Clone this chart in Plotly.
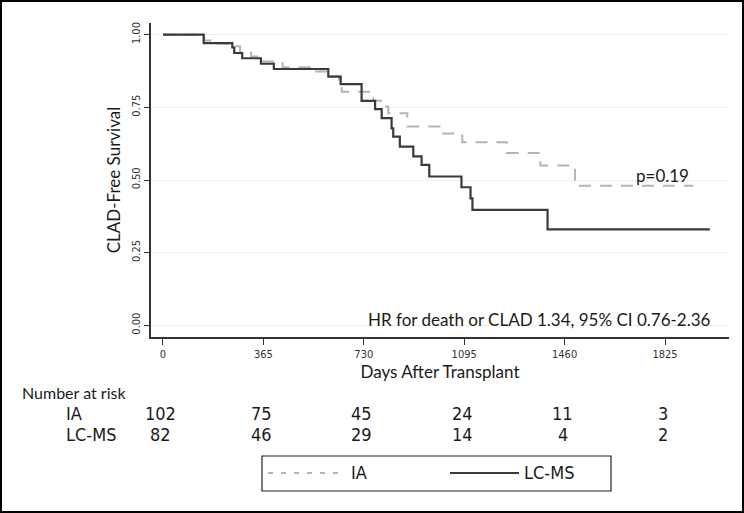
import plotly.graph_objects as go

# ---- data ----
ia_days = [0, 125, 150, 200, 235, 280, 320, 360, 435, 535, 605, 640, 650, 765, 807, 819, 888, 1005, 1088, 1250, 1372, 1498, 1928]
ia_surv = [1.0, 0.990, 0.980, 0.970, 0.960, 0.940, 0.925, 0.908, 0.888, 0.873, 0.857, 0.838, 0.804, 0.773, 0.753, 0.730, 0.684, 0.660, 0.630, 0.593, 0.550, 0.480, 0.480]

lc_days = [0, 148, 252, 259, 288, 356, 403, 601, 646, 722, 771, 795, 831, 837, 861, 910, 940, 968, 1085, 1118, 1125, 1398, 1988]
lc_surv = [1.0, 0.971, 0.956, 0.937, 0.919, 0.900, 0.882, 0.856, 0.830, 0.772, 0.744, 0.713, 0.678, 0.649, 0.615, 0.581, 0.552, 0.512, 0.475, 0.437, 0.397, 0.330, 0.330]

x_ticks = [0, 365, 730, 1095, 1460, 1825]
y_ticks = [0, 0.25, 0.5, 0.75, 1.0]
y_ticktext = ["0.00", "0.25", "0.50", "0.75", "1.00"]

risk_groups = ["IA", "LC-MS"]
risk_ia = [102, 75, 45, 24, 11, 3]
risk_lc = [82, 46, 29, 14, 4, 2]

hr_text = "HR for death or CLAD 1.34, 95% CI 0.76-2.36"
p_text = "p=0.19"

# ---- styling ----
W, H = 744, 513
ML, MR, MT, MB = 151, 15, 23, 176
PW, PH = W - ML - MR, H - MT - MB
GRAY = "#b4b4b4"
DARK = "#3a3a3a"
AXC = "#333333"
MAIN_FONT = "Lato, 'Open Sans', sans-serif"
NARROW_FONT = "'Liberation Sans Narrow', 'DejaVu Sans Condensed', 'Arial Narrow', Lato, sans-serif"


def px_x(px):
    return (px - ML) / PW


def px_y(py):
    return (H - MB - py) / PH


fig = go.Figure()
fig.add_trace(go.Scatter(x=ia_days, y=ia_surv, mode="lines", name="IA",
                         line=dict(shape="hv", color=GRAY, width=2, dash="12px,9px")))
fig.add_trace(go.Scatter(x=lc_days, y=lc_surv, mode="lines", name="LC-MS",
                         line=dict(shape="hv", color=DARK, width=2.2)))

annotations = []
# HR and p
annotations.append(dict(x=px_x(713), y=px_y(319), xref="paper", yref="paper", text=hr_text,
                        showarrow=False, xanchor="right", yanchor="middle",
                        font=dict(family=MAIN_FONT, size=17, color="#1a1a1a")))
annotations.append(dict(x=px_x(634), y=px_y(175), xref="paper", yref="paper", text=p_text,
                        showarrow=False, xanchor="left", yanchor="middle",
                        font=dict(family=MAIN_FONT, size=17, color="#1a1a1a")))
# risk table
annotations.append(dict(x=px_x(20), y=px_y(392), xref="paper", yref="paper", text="Number at risk",
                        showarrow=False, xanchor="left", yanchor="middle",
                        font=dict(family=MAIN_FONT, size=16, color="#1a1a1a")))
for gname, vals, py in [(risk_groups[0], risk_ia, 413), (risk_groups[1], risk_lc, 434)]:
    annotations.append(dict(x=px_x(64), y=px_y(py), xref="paper", yref="paper", text=gname,
                            showarrow=False, xanchor="left", yanchor="middle",
                            font=dict(family=NARROW_FONT, size=18, color="#1a1a1a")))
    for xv, v in zip(x_ticks, vals):
        annotations.append(dict(x=xv, y=px_y(py), xref="x", yref="paper", text=str(v),
                                showarrow=False, xanchor="center", yanchor="middle", xshift=-2,
                                font=dict(family=NARROW_FONT, size=18, color="#1a1a1a")))
# legend texts
annotations.append(dict(x=px_x(349), y=px_y(473), xref="paper", yref="paper", text="IA",
                        showarrow=False, xanchor="left", yanchor="middle",
                        font=dict(family=NARROW_FONT, size=18, color="#1a1a1a")))
annotations.append(dict(x=px_x(522), y=px_y(473), xref="paper", yref="paper", text="LC-MS",
                        showarrow=False, xanchor="left", yanchor="middle",
                        font=dict(family=NARROW_FONT, size=18, color="#1a1a1a")))

shapes = [
    # outer frame
    dict(type="rect", xref="paper", yref="paper", x0=px_x(1), x1=px_x(743), y0=px_y(512), y1=px_y(1),
         line=dict(color="black", width=2), fillcolor="rgba(0,0,0,0)"),
    # legend box
    dict(type="rect", xref="paper", yref="paper", x0=px_x(262), x1=px_x(611), y0=px_y(491), y1=px_y(456),
         line=dict(color="#222222", width=1.2), fillcolor="rgba(0,0,0,0)"),
    dict(type="line", xref="paper", yref="paper", x0=px_x(268), x1=px_x(340), y0=px_y(473), y1=px_y(473),
         line=dict(color=GRAY, width=2, dash="5px,8px")),
    dict(type="line", xref="paper", yref="paper", x0=px_x(450), x1=px_x(519), y0=px_y(473), y1=px_y(473),
         line=dict(color=DARK, width=2.2)),
]

fig.update_layout(
    width=W, height=H,
    margin=dict(l=ML, r=MR, t=MT, b=MB, autoexpand=False),
    paper_bgcolor="white", plot_bgcolor="white",
    showlegend=False,
    annotations=annotations, shapes=shapes,
    font=dict(family=MAIN_FONT, color="#1a1a1a"),
)
fig.update_xaxes(range=[-43.6, 2057.6], tickvals=x_ticks, ticks="outside", ticklen=6, tickwidth=1,
                 tickcolor=AXC, showline=True, linecolor=AXC, linewidth=1.5, showgrid=False,
                 zeroline=False, tickfont=dict(family=NARROW_FONT, size=11, color="#333333"),
                 title=dict(text="Days After Transplant", standoff=0,
                            font=dict(family=MAIN_FONT, size=17, color="#1a1a1a")))
fig.update_yaxes(range=[-0.0403, 1.0403], tickvals=y_ticks, ticktext=y_ticktext, tickangle=-90,
                 ticks="outside", ticklen=5, tickwidth=1, tickcolor=AXC, showline=True, linecolor=AXC,
                 linewidth=1.5, showgrid=True, gridcolor="#efefef", gridwidth=1, zeroline=False,
                 tickfont=dict(family=NARROW_FONT, size=11, color="#333333"),
                 title=dict(text="CLAD-Free Survival", standoff=5,
                            font=dict(family=MAIN_FONT, size=17, color="#1a1a1a")))

fig.write_html("out.html", config={"displayModeBar": False},
               post_script="document.body.style.margin='0';document.body.style.overflow='hidden';")
